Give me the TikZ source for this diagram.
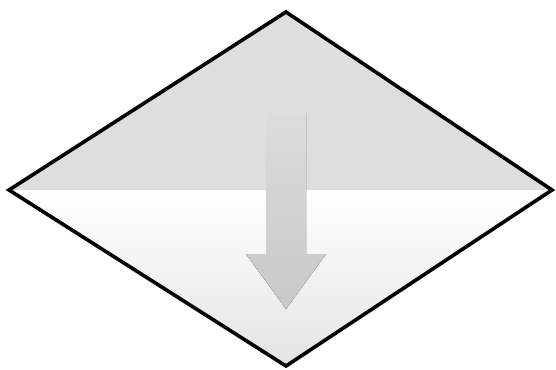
\documentclass[tikz,border=0pt]{standalone}
\begin{document}
\begin{tikzpicture}[x=1pt,y=-1pt,
  outline/.style={draw=black,line width=3.6pt,line join=miter},
  upperfill/.style={fill={rgb,255:red,222;green,222;blue,222}},
  lowerfill/.style={top color=white,bottom color={rgb,255:red,228;green,228;blue,228}},
  arrowfill/.style={top color={rgb,255:red,220;green,220;blue,220},middle color={rgb,255:red,176;green,176;blue,176},bottom color={rgb,255:red,200;green,200;blue,200}}]
\useasboundingbox (0,0) rectangle (556,369);
\coordinate (T) at (286,12);
\coordinate (L) at (9,190);
\coordinate (R) at (552,190);
\coordinate (B) at (286,366);
\fill[upperfill] (L) -- (T) -- (R) -- cycle;
\fill[lowerfill] (L) -- (R) -- (B) -- cycle;
\fill[arrowfill] (266,113) -- (306,113) -- (306,254) -- (326,254) -- (286,309) -- (246,254) -- (266,254) -- cycle;
\draw[outline] (T) -- (R) -- (B) -- (L) -- cycle;
\end{tikzpicture}
\end{document}
